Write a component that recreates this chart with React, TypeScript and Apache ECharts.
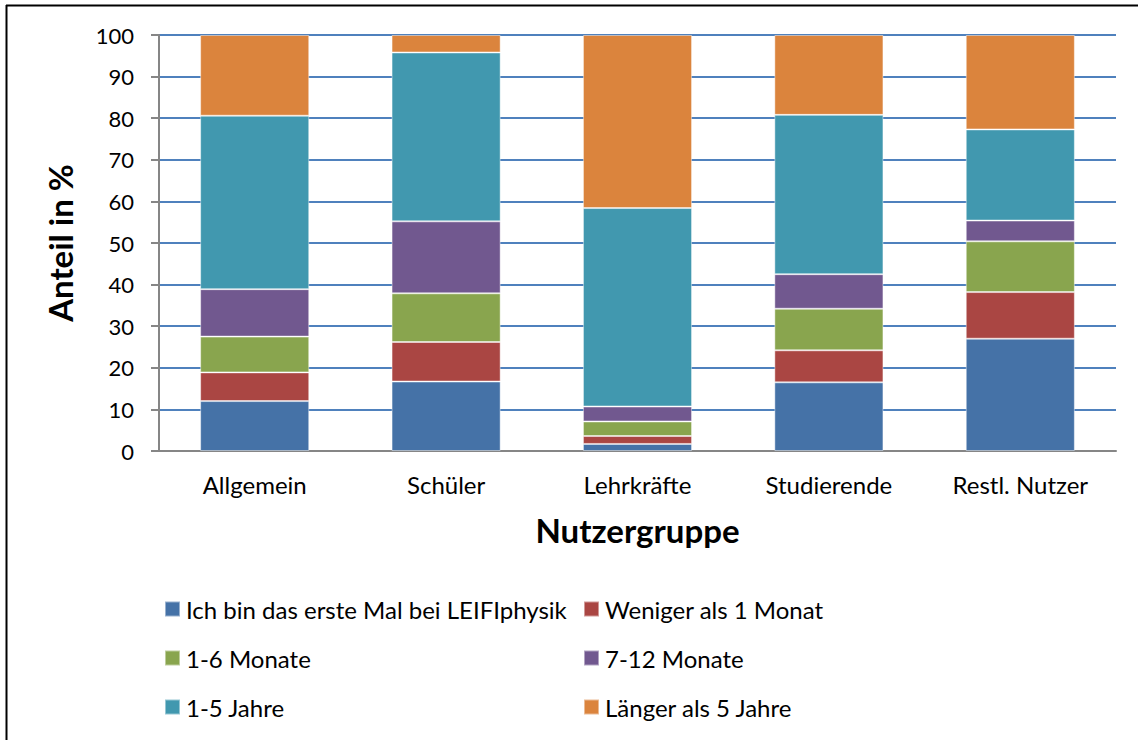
import React, { useEffect, useRef } from "react";
import * as echarts from "echarts";

const categories = ["Allgemein", "Schüler", "Lehrkräfte", "Studierende", "Restl. Nutzer"];
const seriesNames = [
  "Ich bin das erste Mal bei LEIFIphysik",
  "Weniger als 1 Monat",
  "1-6 Monate",
  "7-12 Monate",
  "1-5 Jahre",
  "Länger als 5 Jahre",
];
const ersteMal = [12.0, 16.7, 1.7, 16.5, 27.0];
const wenigerAls1Monat = [6.9, 9.5, 1.9, 7.7, 11.2];
const monate1bis6 = [8.6, 11.7, 3.5, 10.0, 12.2];
const monate7bis12 = [11.4, 17.3, 3.6, 8.3, 5.0];
const jahre1bis5 = [41.7, 40.6, 47.7, 38.3, 21.9];
const laengerAls5 = [19.4, 4.2, 41.6, 19.2, 22.7];
const seriesValues = [ersteMal, wenigerAls1Monat, monate1bis6, monate7bis12, jahre1bis5, laengerAls5];
const colors = ["#4572A7", "#AA4643", "#89A54E", "#71588F", "#4198AF", "#DB843D"];

export default function App() {
  const ref = useRef<HTMLDivElement>(null);
  useEffect(() => {
    document.body.style.margin = "0";
    const chart = echarts.init(ref.current!, null, { renderer: "svg" });
    const font = "Lato, 'Open Sans', sans-serif";
    const legendCommon = {
      orient: "vertical",
      itemWidth: 15,
      itemHeight: 15,
      itemGap: 25,
      icon: "rect",
      top: 592,
      textStyle: { fontSize: 24, fontFamily: font, color: "#000", lineHeight: 24, padding: [0, 0, 0, 1] },
    };
    chart.setOption({
      animation: false,
      backgroundColor: "#fff",
      color: colors,
      grid: { left: 159, right: 22, top: 35, bottom: 289, containLabel: false },
      legend: [
        { ...legendCommon, left: 159, data: [seriesNames[0], seriesNames[2], seriesNames[4]] },
        { ...legendCommon, left: 578, data: [seriesNames[1], seriesNames[3], seriesNames[5]] },
      ],
      xAxis: {
        type: "category",
        data: categories,
        name: "Nutzergruppe",
        nameLocation: "middle",
        nameGap: 62,
        nameTextStyle: { fontSize: 33, fontWeight: "bold", fontFamily: font, color: "#000" },
        axisLine: { lineStyle: { color: "#868686", width: 2 } },
        axisTick: { show: false },
        axisLabel: { fontSize: 24, fontFamily: font, color: "#000", margin: 21 },
      },
      yAxis: {
        type: "value",
        min: 0,
        max: 100,
        interval: 10,
        name: "Anteil in %",
        nameLocation: "middle",
        nameGap: 83,
        nameTextStyle: { fontSize: 33, fontWeight: "bold", fontFamily: font, color: "#000" },
        axisLine: { show: true, lineStyle: { color: "#868686", width: 2 } },
        axisTick: { show: true, length: 8, lineStyle: { color: "#868686", width: 2 } },
        axisLabel: { fontSize: 22, fontFamily: font, color: "#000", margin: 25 },
        splitLine: { lineStyle: { color: "#4F81BD", width: 2 } },
      },
      series: seriesNames.map((name, i) => ({
        name,
        type: "bar",
        stack: "total",
        data: seriesValues[i],
        barCategoryGap: "43%",
        itemStyle: { color: colors[i], borderColor: "rgba(255,255,255,0.45)", borderWidth: 1 },
      })),
      graphic: [
        {
          type: "line",
          shape: { x1: 6, y1: 5.5, x2: 1138, y2: 5.5 },
          style: { stroke: "#000", lineWidth: 2 },
          silent: true,
        },
        {
          type: "line",
          shape: { x1: 6.5, y1: 5, x2: 6.5, y2: 740 },
          style: { stroke: "#000", lineWidth: 2 },
          silent: true,
        },
      ],
    });
    return () => chart.dispose();
  }, []);
  return <div ref={ref} style={{ width: 1138, height: 740 }} />;
}
